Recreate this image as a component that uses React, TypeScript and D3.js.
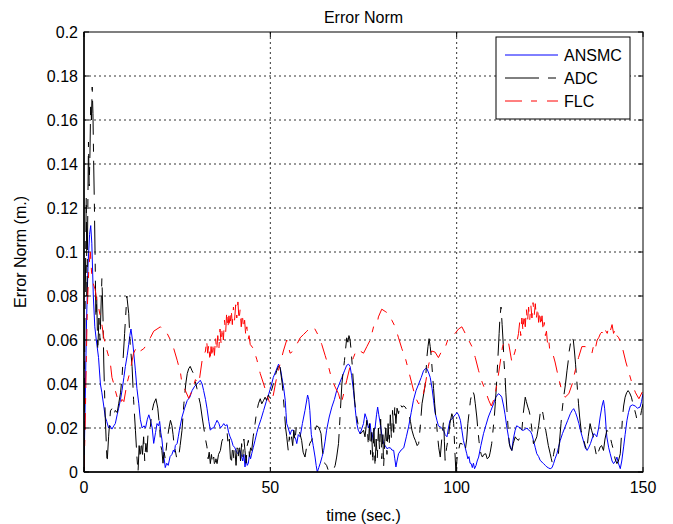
import React from 'react';
import * as d3 from 'd3';

type P = [number, number];

const xTickValues = [0, 50, 100, 150];
const xTickLabels = ['0', '50', '100', '150'];
const yTickValues = [0, 0.02, 0.04, 0.06, 0.08, 0.1, 0.12, 0.14, 0.16, 0.18, 0.2];
const yTickLabels = ['0', '0.02', '0.04', '0.06', '0.08', '0.1', '0.12', '0.14', '0.16', '0.18', '0.2'];
const seriesNames = ['ANSMC', 'ADC', 'FLC'];

const ansmc: P[] = [
[0,0],[0.3,0.03],[0.7,0.07],[1.1,0.095],[1.5,0.108],[1.8,0.112],[2.1,0.104],[2.5,0.08],[2.9,0.066],[3.3,0.06],[3.9,0.052],[4.4,0.040],[4.8,0.036],[5.3,0.030],[5.7,0.025],[6.1,0.023],[6.6,0.020],[7.0,0.021],[7.5,0.0195],[8.0,0.021],[8.4,0.022],[8.9,0.026],[9.3,0.029],[9.8,0.033],[10.2,0.037],[10.7,0.043],[11.1,0.048],[11.6,0.053],[12.0,0.058],[12.3,0.062],[12.6,0.065],[13.0,0.060],[13.3,0.055],[13.8,0.046],[14.2,0.038],[14.7,0.031],[15.1,0.024],[15.6,0.020],[16.1,0.021],[16.5,0.020],[17.0,0.024],[17.4,0.026],[17.9,0.023],[18.3,0.020],[18.7,0.013],[19.2,0.018],[19.6,0.022],[20.0,0.021],[20.3,0.023],[20.6,0.018],[20.9,0.015],[21.3,0.008],[21.6,0.005],[21.8,0.002],[22.2,0.004],[22.6,0.003],[23.1,0.007],[23.6,0.008],[24.0,0.010],[24.3,0.009],[24.5,0.012],[25.0,0.013],[25.3,0.016],[25.6,0.019],[26.3,0.025],[27.0,0.029],[27.7,0.0325],[28.4,0.034],[29.0,0.037],[29.7,0.039],[30.3,0.040],[31.2,0.0417],[31.7,0.040],[32.1,0.037],[32.6,0.033],[33.0,0.029],[33.5,0.023],[33.9,0.019],[34.4,0.020],[34.8,0.020],[35.3,0.022],[35.7,0.0235],[36.2,0.022],[36.6,0.020],[37.1,0.021],[37.5,0.022],[37.9,0.021],[38.4,0.0215],[38.8,0.018],[39.2,0.016],[39.6,0.0144],[40.0,0.012],[40.5,0.011],[40.9,0.009],[41.4,0.0083],[41.8,0.01],[42.3,0.007],[42.6,0.005],[42.9,0.008],[43.2,0.0023],[43.5,0.006],[43.8,0.003],[44.1,0.004],[44.4,0.008],[44.7,0.006],[45.0,0.0083],[45.4,0.011],[45.9,0.0144],[46.4,0.018],[46.8,0.0205],[47.5,0.024],[48.2,0.028],[48.9,0.032],[49.6,0.0356],[50.2,0.039],[50.8,0.043],[51.5,0.046],[52.2,0.049],[52.7,0.047],[53.1,0.043],[53.6,0.038],[54.0,0.0326],[54.2,0.027],[54.4,0.022],[54.8,0.02],[55.3,0.017],[55.7,0.019],[56.2,0.019],[56.5,0.016],[56.8,0.015],[57.1,0.0129],[57.5,0.017],[58.0,0.016],[58.6,0.022],[59.3,0.028],[60.0,0.035],[60.3,0.033],[60.6,0.028],[61.0,0.017],[61.5,0.012],[62.0,0.0068],[62.3,0.003],[62.6,0.0],[63.0,0.002],[63.4,0.004],[63.9,0.007],[64.3,0.0098],[64.7,0.014],[65.1,0.019],[65.8,0.025],[66.5,0.0295],[67.2,0.033],[67.8,0.037],[68.5,0.04],[69.2,0.043],[69.9,0.046],[70.5,0.0485],[71.0,0.049],[71.4,0.048],[71.8,0.044],[72.3,0.037],[72.7,0.03],[73.2,0.022],[73.6,0.019],[74.1,0.0174],[74.6,0.02],[75.0,0.022],[75.4,0.0265],[75.9,0.024],[76.3,0.02],[76.8,0.022],[77.2,0.0144],[77.6,0.018],[78.1,0.020],[78.5,0.026],[78.8,0.0295],[79.1,0.026],[79.5,0.022],[80.0,0.016],[80.4,0.013],[80.8,0.012],[81.3,0.0106],[81.7,0.011],[82.2,0.011],[82.6,0.01],[83.1,0.0098],[83.4,0.006],[83.7,0.0023],[84.0,0.005],[84.4,0.0083],[85.1,0.01],[85.8,0.011],[86.5,0.016],[87.1,0.0205],[87.8,0.027],[88.4,0.0326],[89.1,0.037],[89.8,0.040],[90.5,0.043],[91.1,0.046],[91.6,0.047],[92.0,0.047],[92.5,0.045],[92.9,0.043],[93.4,0.038],[93.8,0.0326],[94.2,0.027],[94.7,0.0235],[95.1,0.021],[95.6,0.0205],[96.0,0.02],[96.5,0.019],[96.9,0.017],[97.4,0.016],[97.8,0.02],[98.2,0.0235],[98.7,0.024],[99.1,0.025],[99.6,0.026],[100.1,0.027],[100.5,0.026],[101.0,0.0235],[101.4,0.019],[101.8,0.0144],[102.3,0.011],[102.7,0.0083],[103.0,0.006],[103.3,0.007],[103.6,0.004],[103.9,0.0038],[104.2,0.002],[104.5,0.004],[104.8,0.0015],[105.2,0.003],[105.5,0.005],[105.9,0.0068],[106.5,0.012],[107.2,0.0174],[107.8,0.021],[108.5,0.025],[109.2,0.028],[109.9,0.031],[110.5,0.034],[111.2,0.0356],[111.7,0.035],[112.1,0.034],[112.6,0.03],[113.0,0.026],[113.4,0.021],[113.9,0.016],[114.3,0.012],[114.8,0.0098],[115.2,0.015],[115.7,0.019],[116.1,0.021],[116.6,0.0205],[117.1,0.02],[117.5,0.019],[118.0,0.019],[118.4,0.0195],[118.9,0.020],[119.3,0.019],[119.8,0.0185],[120.2,0.017],[120.6,0.0144],[121.1,0.011],[121.5,0.0083],[122.0,0.007],[122.4,0.0053],[122.9,0.0045],[123.3,0.0038],[123.8,0.003],[124.2,0.0023],[124.7,0.0018],[125.1,0.0015],[125.6,0.002],[126.0,0.0038],[126.4,0.006],[126.9,0.0083],[127.3,0.011],[127.8,0.0144],[128.4,0.0175],[129.1,0.0205],[129.8,0.0235],[130.5,0.0265],[131.0,0.028],[131.4,0.0288],[131.9,0.027],[132.3,0.025],[132.8,0.022],[133.2,0.019],[133.7,0.016],[134.1,0.0136],[134.5,0.011],[135.0,0.0098],[135.4,0.011],[135.9,0.0129],[136.3,0.015],[136.8,0.0174],[137.2,0.017],[137.6,0.016],[138.1,0.02],[138.5,0.025],[139.0,0.03],[139.4,0.0326],[139.7,0.029],[139.9,0.025],[140.1,0.02],[140.3,0.0159],[140.8,0.011],[141.2,0.0083],[141.7,0.005],[142.1,0.0038],[142.6,0.005],[143.0,0.0068],[143.4,0.004],[143.9,0.0015],[144.3,0.005],[144.8,0.0114],[145.2,0.017],[145.7,0.0235],[146.1,0.027],[146.6,0.030],[147.2,0.0305],[147.9,0.030],[148.5,0.029],[149.2,0.0295],[149.6,0.032],[150,0.0356]
];

const adc: P[] = [
[0,0],[0.2,0.06],[0.4,0.09],[0.6,0.125],[0.8,0.08],[1.0,0.115],[1.2,0.15],[1.4,0.13],[1.6,0.145],[1.8,0.168],[2.0,0.16],[2.2,0.175],[2.4,0.163],[2.6,0.14],[2.8,0.12],[3.0,0.095],[3.2,0.07],[3.4,0.08],[3.7,0.055],[4.0,0.07],[4.3,0.06],[4.8,0.088],[5.1,0.07],[5.3,0.05],[5.7,0.025],[6.2,0.004],[6.6,0.016],[7.1,0.0278],[7.5,0.0288],[8.0,0.026],[8.4,0.028],[8.9,0.027],[9.3,0.031],[9.8,0.036],[10.2,0.043],[10.9,0.063],[11.5,0.08],[12.0,0.072],[12.4,0.058],[12.9,0.048],[13.3,0.033],[13.8,0.019],[14.2,0.007],[14.5,0.0],[14.8,0.012],[15.1,0.006],[15.4,0.014],[15.7,0.008],[16.0,0.016],[16.3,0.005],[16.6,0.013],[16.9,0.009],[17.2,0.018],[17.8,0.0205],[18.2,0.027],[18.7,0.031],[19.3,0.0333],[19.8,0.029],[20.3,0.02],[20.6,0.012],[20.9,0.0098],[21.2,0.004],[21.5,0.009],[21.8,0.006],[22.3,0.0144],[22.8,0.02],[23.2,0.0235],[23.6,0.021],[23.9,0.017],[24.2,0.012],[24.5,0.0098],[24.9,0.006],[25.4,0.0068],[25.8,0.012],[26.3,0.019],[26.8,0.031],[27.3,0.04],[27.7,0.0447],[28.1,0.047],[28.5,0.048],[29.0,0.046],[29.4,0.0447],[29.9,0.041],[30.3,0.038],[30.8,0.034],[31.2,0.031],[31.7,0.025],[32.1,0.0205],[32.6,0.015],[33.0,0.0114],[33.3,0.006],[33.6,0.009],[33.9,0.0038],[34.2,0.008],[34.5,0.004],[34.8,0.0068],[35.1,0.002],[35.4,0.006],[35.7,0.0038],[36.1,0.008],[36.6,0.0098],[37.0,0.014],[37.5,0.016],[37.9,0.017],[38.4,0.018],[38.7,0.012],[39.0,0.015],[39.3,0.006],[39.6,0.0053],[39.9,0.012],[40.2,0.006],[40.5,0.0098],[40.8,0.003],[41.1,0.011],[41.4,0.0068],[41.7,0.013],[42.0,0.005],[42.3,0.0129],[42.6,0.007],[42.9,0.015],[43.2,0.0098],[43.5,0.004],[43.8,0.012],[44.1,0.0144],[44.4,0.007],[44.7,0.011],[45.0,0.0098],[45.4,0.016],[45.9,0.022],[46.3,0.027],[46.8,0.031],[47.3,0.0333],[47.7,0.031],[48.2,0.0326],[48.6,0.034],[49.0,0.0326],[49.5,0.035],[49.9,0.0333],[50.3,0.037],[50.8,0.040],[51.2,0.043],[51.7,0.046],[52.2,0.048],[52.6,0.0477],[53.2,0.040],[53.7,0.0295],[54.1,0.02],[54.4,0.016],[54.8,0.0098],[55.1,0.016],[55.3,0.0129],[55.7,0.016],[56.0,0.012],[56.3,0.019],[56.6,0.014],[57.0,0.021],[57.5,0.0205],[58.0,0.017],[58.4,0.0144],[58.8,0.009],[59.3,0.0068],[59.7,0.011],[60.2,0.0098],[60.6,0.013],[61.1,0.0144],[61.5,0.017],[62.0,0.019],[62.4,0.021],[62.9,0.0205],[63.3,0.019],[63.6,0.0174],[63.9,0.011],[64.2,0.0068],[64.6,0.004],[65.1,0.003],[65.5,0.001],[66.0,0.0015],[66.5,0.0008],[66.9,0.0008],[67.4,0.003],[67.8,0.0068],[68.3,0.0129],[68.7,0.025],[69.2,0.040],[69.5,0.045],[69.9,0.0507],[70.2,0.056],[70.5,0.061],[70.8,0.059],[71.1,0.062],[71.4,0.06],[71.7,0.055],[72.0,0.048],[72.3,0.040],[72.6,0.033],[72.9,0.028],[73.2,0.025],[73.5,0.022],[73.8,0.019],[74.1,0.0174],[74.6,0.018],[75.0,0.019],[75.4,0.016],[75.9,0.0235],[76.3,0.012],[76.6,0.022],[76.9,0.008],[77.2,0.018],[77.5,0.004],[77.8,0.02],[78.1,0.0023],[78.4,0.015],[78.7,0.006],[79.0,0.02],[79.3,0.01],[79.6,0.024],[79.9,0.006],[80.2,0.017],[80.4,0.0023],[80.7,0.014],[81.0,0.02],[81.3,0.008],[81.6,0.022],[81.9,0.012],[82.2,0.026],[82.5,0.015],[82.8,0.028],[83.1,0.018],[83.4,0.03],[83.7,0.022],[84.0,0.029],[84.4,0.0265],[84.8,0.031],[85.3,0.0295],[85.8,0.03],[86.2,0.0295],[86.7,0.028],[87.1,0.0265],[87.6,0.023],[88.0,0.019],[88.5,0.016],[88.9,0.0144],[89.4,0.012],[89.8,0.0129],[90.2,0.02],[90.7,0.031],[91.2,0.036],[91.6,0.040],[92.0,0.052],[92.3,0.057],[92.6,0.0606],[92.9,0.057],[93.2,0.052],[93.5,0.045],[93.8,0.038],[94.1,0.031],[94.4,0.025],[94.7,0.02],[94.9,0.016],[95.2,0.011],[95.6,0.0068],[96.0,0.015],[96.5,0.0235],[96.7,0.014],[96.9,0.0053],[97.3,0.011],[97.8,0.016],[98.2,0.022],[98.7,0.0265],[99.0,0.025],[99.2,0.022],[99.5,0.01],[99.8,0.0],[100.1,0.006],[100.5,0.0098],[100.9,0.013],[101.4,0.0129],[101.8,0.011],[102.3,0.0098],[102.7,0.015],[103.0,0.022],[103.4,0.028],[103.7,0.0326],[104.0,0.035],[104.3,0.037],[104.7,0.035],[105.0,0.031],[105.4,0.025],[105.7,0.019],[106.0,0.014],[106.3,0.0098],[106.6,0.008],[106.9,0.0068],[107.3,0.008],[107.8,0.0083],[108.2,0.006],[108.7,0.0068],[109.0,0.009],[109.4,0.0129],[109.7,0.018],[110.1,0.025],[110.4,0.032],[110.8,0.043],[111.1,0.053],[111.4,0.063],[111.6,0.07],[111.9,0.075],[112.2,0.067],[112.5,0.058],[112.7,0.05],[113.0,0.043],[113.2,0.036],[113.5,0.028],[113.8,0.02],[114.1,0.013],[114.4,0.011],[114.8,0.0098],[115.2,0.013],[115.7,0.016],[116.1,0.015],[116.6,0.0144],[117.0,0.016],[117.5,0.019],[117.9,0.027],[118.4,0.034],[118.7,0.032],[119.1,0.0295],[119.4,0.028],[119.8,0.025],[120.2,0.019],[120.6,0.0129],[121.0,0.014],[121.5,0.016],[122.0,0.021],[122.4,0.0265],[122.9,0.0288],[123.2,0.026],[123.6,0.022],[123.9,0.019],[124.2,0.016],[124.6,0.012],[125.1,0.0083],[125.4,0.006],[125.7,0.0038],[126.0,0.008],[126.4,0.0114],[126.8,0.01],[127.3,0.0083],[127.6,0.014],[128.0,0.022],[128.3,0.028],[128.7,0.034],[129.2,0.04],[129.6,0.046],[129.9,0.05],[130.2,0.055],[130.6,0.059],[130.9,0.0614],[131.3,0.060],[131.6,0.055],[131.9,0.049],[132.3,0.04],[132.7,0.031],[133.0,0.025],[133.4,0.019],[133.7,0.016],[134.1,0.0144],[134.5,0.012],[134.9,0.0098],[135.3,0.016],[135.8,0.022],[136.2,0.019],[136.7,0.016],[137.1,0.011],[137.6,0.0068],[138.0,0.009],[138.5,0.0114],[138.9,0.012],[139.4,0.0098],[139.8,0.015],[140.3,0.019],[140.7,0.018],[141.2,0.016],[141.6,0.013],[142.1,0.0098],[142.5,0.006],[143.0,0.0038],[143.4,0.005],[143.9,0.0083],[144.2,0.016],[144.5,0.025],[144.8,0.03],[145.2,0.034],[145.6,0.036],[146.0,0.037],[146.4,0.036],[146.9,0.034],[147.3,0.031],[147.8,0.028],[148.1,0.026],[148.4,0.0235],[148.8,0.024],[149.3,0.025],[149.6,0.028],[150,0.031]
];

const flc: P[] = [
[0,0],[0.3,0.02],[0.6,0.05],[0.9,0.075],[1.3,0.093],[1.7,0.1],[2.1,0.089],[2.6,0.085],[3.0,0.083],[3.5,0.077],[4.0,0.074],[4.4,0.0705],[4.9,0.066],[5.3,0.061],[5.8,0.058],[6.2,0.055],[6.7,0.052],[7.1,0.049],[7.5,0.043],[8.0,0.040],[8.4,0.037],[8.9,0.034],[9.3,0.032],[9.8,0.031],[10.2,0.033],[10.7,0.032],[11.5,0.040],[12.4,0.046],[13.3,0.054],[14.2,0.057],[15.1,0.055],[16.0,0.056],[16.9,0.058],[17.8,0.061],[18.7,0.064],[19.6,0.065],[20.5,0.066],[21.4,0.064],[22.3,0.063],[23.2,0.060],[24.1,0.056],[25.0,0.0508],[25.9,0.045],[26.3,0.040],[27.2,0.037],[28.1,0.0335],[29.0,0.037],[29.9,0.042],[30.8,0.040],[31.7,0.0508],[32.6,0.055],[32.9,0.06],[33.2,0.054],[33.5,0.058],[33.8,0.05],[34.1,0.057],[34.4,0.052],[34.7,0.059],[35.0,0.053],[35.3,0.061],[35.6,0.055],[35.9,0.062],[36.2,0.056],[36.5,0.065],[36.8,0.058],[37.1,0.066],[37.4,0.06],[37.7,0.069],[38.0,0.063],[38.3,0.073],[38.6,0.065],[38.9,0.071],[39.2,0.066],[39.5,0.074],[39.8,0.067],[40.1,0.075],[40.4,0.069],[40.7,0.076],[41.0,0.07],[41.3,0.0773],[41.6,0.069],[41.9,0.074],[42.2,0.066],[42.5,0.072],[42.8,0.065],[43.1,0.069],[43.4,0.062],[43.7,0.066],[44.0,0.06],[44.3,0.062],[44.6,0.058],[45.5,0.056],[46.4,0.051],[47.3,0.0447],[48.2,0.040],[49.0,0.0356],[49.9,0.031],[50.8,0.035],[51.7,0.043],[52.6,0.049],[53.5,0.055],[54.4,0.060],[55.3,0.054],[56.2,0.055],[57.1,0.058],[58.0,0.061],[58.9,0.0625],[59.8,0.064],[60.9,0.066],[61.8,0.0655],[62.9,0.062],[63.8,0.058],[64.7,0.053],[65.6,0.048],[66.5,0.042],[67.4,0.0386],[68.3,0.0356],[69.0,0.031],[69.6,0.035],[70.5,0.0417],[71.4,0.048],[72.3,0.052],[73.2,0.056],[74.1,0.055],[75.0,0.054],[75.9,0.057],[76.8,0.060],[77.7,0.066],[78.5,0.066],[79.0,0.0705],[79.9,0.074],[80.8,0.073],[81.7,0.072],[82.6,0.069],[83.5,0.066],[84.4,0.061],[85.3,0.056],[86.2,0.052],[87.1,0.046],[88.0,0.040],[88.9,0.034],[89.8,0.031],[90.7,0.0326],[91.6,0.040],[92.4,0.048],[93.3,0.055],[94.2,0.0545],[95.1,0.052],[96.0,0.055],[96.9,0.0565],[97.8,0.061],[98.7,0.0625],[99.6,0.063],[100.5,0.065],[101.4,0.066],[102.3,0.063],[103.2,0.060],[104.1,0.057],[105.0,0.052],[105.9,0.046],[106.8,0.041],[107.7,0.037],[108.6,0.0326],[109.3,0.030],[110.2,0.034],[111.1,0.043],[111.7,0.050],[112.3,0.057],[113.0,0.060],[113.9,0.059],[114.8,0.050],[115.7,0.055],[116.6,0.063],[116.9,0.068],[117.2,0.062],[117.5,0.07],[117.8,0.064],[118.1,0.072],[118.4,0.066],[118.7,0.074],[119.0,0.068],[119.3,0.075],[119.6,0.069],[119.9,0.076],[120.2,0.07],[120.5,0.077],[120.8,0.071],[121.1,0.0765],[121.4,0.07],[121.7,0.075],[122.0,0.068],[122.3,0.073],[122.6,0.066],[122.9,0.071],[123.2,0.064],[123.5,0.068],[123.8,0.062],[124.1,0.064],[124.4,0.058],[124.7,0.06],[125.0,0.055],[125.6,0.055],[126.4,0.050],[127.3,0.043],[128.2,0.037],[129.1,0.034],[130.1,0.0356],[131.0,0.040],[131.8,0.046],[132.7,0.052],[133.6,0.057],[134.5,0.057],[135.4,0.055],[136.3,0.054],[136.8,0.058],[137.2,0.056],[137.7,0.06],[138.1,0.061],[138.6,0.063],[139.0,0.0636],[139.5,0.062],[139.9,0.0645],[140.4,0.063],[140.8,0.066],[141.2,0.064],[141.7,0.067],[142.1,0.063],[142.6,0.065],[143.0,0.062],[143.5,0.061],[144.4,0.057],[145.4,0.050],[146.3,0.0447],[147.1,0.040],[148.0,0.036],[148.9,0.0333],[150,0.037]
];

const seriesData = [ansmc, adc, flc];
const seriesColors = ['#0000ff', '#000000', '#ff0000'];
const seriesDash = ['none', '34,9,8,9', '17,9,6,10'];

const FONT = "'Liberation Sans', Arial, Helvetica, sans-serif";

export default function App() {
  const W = 673, H = 524;
  const L = 84, R = 643, T = 32, B = 472;
  const x = d3.scaleLinear().domain([0, 150]).range([L, R]);
  const y = d3.scaleLinear().domain([0, 0.2]).range([B, T]);
  const line = d3.line<P>().x(d => x(d[0])).y(d => y(d[1]));

  const drawOrder = [0, 1, 2];
  const legX = 496, legY = 37, legW = 134, legH = 82;
  const legRows = [55, 78, 101];

  return (
    <svg width={W} height={H} style={{ position: 'absolute', left: 0, top: 0, background: '#fff' }} fontFamily={FONT}>
      <rect x={0} y={0} width={W} height={H} fill="#fff" />
      <defs>
        <clipPath id="plotclip">
          <rect x={L} y={T} width={R - L} height={B - T} />
        </clipPath>
      </defs>
      <rect x={L} y={T} width={R - L} height={B - T} fill="#fff" />
      {xTickValues.slice(1, -1).map(v => (
        <line key={'gx' + v} x1={x(v)} x2={x(v)} y1={T} y2={B} stroke="#000" strokeWidth={0.8} strokeDasharray="2,3" />
      ))}
      {yTickValues.slice(1, -1).map(v => (
        <line key={'gy' + v} x1={L} x2={R} y1={y(v)} y2={y(v)} stroke="#000" strokeWidth={0.8} strokeDasharray="2,3" />
      ))}
      <g clipPath="url(#plotclip)">
        {drawOrder.map(i => (
          <path key={seriesNames[i]} d={line(seriesData[i]) || ''} fill="none" stroke={seriesColors[i]}
            strokeWidth={1} strokeDasharray={seriesDash[i]} strokeLinejoin="round" />
        ))}
      </g>
      <rect x={L} y={T} width={R - L} height={B - T} fill="none" stroke="#000" strokeWidth={1} />
      <line x1={L} x2={L} y1={T} y2={B} stroke="#000" strokeWidth={1.5} />
      <line x1={L} x2={R} y1={B} y2={B} stroke="#000" strokeWidth={1.5} />
      {xTickValues.map(v => (
        <g key={'tx' + v}>
          <line x1={x(v)} x2={x(v)} y1={B} y2={B - 5} stroke="#000" />
          <line x1={x(v)} x2={x(v)} y1={T} y2={T + 5} stroke="#000" />
        </g>
      ))}
      {yTickValues.map(v => (
        <g key={'ty' + v}>
          <line x1={L} x2={L + 5} y1={y(v)} y2={y(v)} stroke="#000" />
          <line x1={R} x2={R - 5} y1={y(v)} y2={y(v)} stroke="#000" />
        </g>
      ))}
      {xTickValues.map((v, i) => (
        <text key={'lx' + v} x={x(v)} y={B + 21} fontSize={16} textAnchor="middle" fill="#000">{xTickLabels[i]}</text>
      ))}
      {yTickValues.map((v, i) => (
        <text key={'ly' + v} x={L - 6} y={y(v) + 6} fontSize={16} textAnchor="end" fill="#000">{yTickLabels[i]}</text>
      ))}
      <text x={(L + R) / 2} y={23} fontSize={16} textAnchor="middle" fill="#000">Error Norm</text>
      <text x={(L + R) / 2} y={521} fontSize={16} textAnchor="middle" fill="#000">time (sec.)</text>
      <text transform={`translate(26,${(T + B) / 2}) rotate(-90)`} fontSize={16} textAnchor="middle" fill="#000">Error Norm (m.)</text>
      <rect x={legX} y={legY} width={legW} height={legH} fill="#fff" stroke="#000" strokeWidth={1} />
      {seriesNames.map((n, i) => (
        <g key={'leg' + n}>
          <line x1={505} x2={558} y1={legRows[i]} y2={legRows[i]} stroke={seriesColors[i]} strokeWidth={1} strokeDasharray={seriesDash[i]} />
          <text x={564} y={legRows[i] + 6} fontSize={16} fill="#000">{n}</text>
        </g>
      ))}
    </svg>
  );
}
